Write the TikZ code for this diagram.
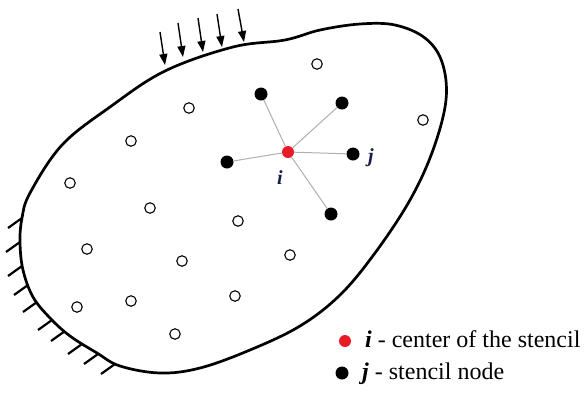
\documentclass[tikz,border=0pt]{standalone}
\usepackage{fontspec}
\setmainfont{Liberation Serif}
\usetikzlibrary{arrows.meta}
\definecolor{redpt}{RGB}{232,28,36}
\definecolor{lbl}{RGB}{25,30,70}
\definecolor{spoke}{RGB}{175,175,175}
\begin{document}
\begin{tikzpicture}[x=1pt,y=-1pt,
  boundary/.style={line width=2.7pt, line join=round},
  hatch/.style={line width=2.2pt},
  load/.style={line width=1.4pt, -{Triangle[length=11pt,width=8pt]}},
  free/.style={circle, draw, line width=1.1pt, minimum size=10.5pt, inner sep=0pt},
  stnode/.style={circle, fill=black, minimum size=13pt, inner sep=0pt},
  ctr/.style={circle, fill=redpt, minimum size=12pt, inner sep=0pt},
  spk/.style={draw=spoke, line width=1pt},
  lab/.style={font=\fontsize{20}{24}\selectfont\bfseries\itshape, text=lbl, inner sep=0pt},
  legend/.style={font=\fontsize{24}{28}\selectfont, inner sep=0pt, anchor=base west}]
\useasboundingbox (0,0) rectangle (584,392);

% boundary
\draw[boundary] plot[smooth cycle, tension=0.6] coordinates {
  (30,193) (62,145) (110,107) (165,71) (233,47) (285,40) (320,30) (360,24)
  (395,25) (425,38) (442,62) (446,100) (433,150) (410,200) (375,253)
  (340,295) (300,326) (250,350) (200,368) (160,373) (120,366)
  (97,353) (70,336) (50,318) (33,297) (23,270) (20,242) (22,218)};

% hatching of the fixed part
\foreach \hx/\hy in {22/218,20/242,22/266,28/285,37/302,52/320,65/331,82/344,98/354,115/364}
  \draw[hatch] (\hx,\hy) -- ++(-14,10);

% distributed load
\draw[load] (160,32) -- (165,65);
\draw[load] (178,23) -- (183,57);
\draw[load] (198,18) -- (203,52);
\draw[load] (217,14) -- (222,47);
\draw[load] (238,9) -- (244,42);

% free nodes
\node[free] (f1) at (317,64) {};
\node[free] (f2) at (189,108) {};
\node[free] (f3) at (131,141) {};
\node[free] (f4) at (423,120) {};
\node[free] (f5) at (70,183) {};
\node[free] (f6) at (150,208) {};
\node[free] (f7) at (238,221) {};
\node[free] (f8) at (87,249) {};
\node[free] (f9) at (182,261) {};
\node[free] (f10) at (290,255) {};
\node[free] (f11) at (77,307) {};
\node[free] (f12) at (131,301) {};
\node[free] (f13) at (235,296) {};
\node[free] (f14) at (175,334) {};

% stencil
\node[ctr] (c) at (288,152) {};
\node[stnode] (s1) at (261,94) {};
\node[stnode] (s2) at (342,103) {};
\node[stnode] (s3) at (227,162) {};
\node[stnode] (s4) at (353,154) {};
\node[stnode] (s5) at (331,214) {};
\foreach \s in {s1,s2,s3,s4,s5}
  \draw[spk] (c) -- (\s);
\node[lab] (li) at (280,178) {i};
\node[lab] (lj) at (371,158) {j};

% legend
\node[ctr] (lr) at (345,341) {};
\node[legend] (t1) at (365,347) {\textbf{\textit{i}} - center of the stencil};
\node[stnode] (lb) at (342,373) {};
\node[legend] (t2) at (362,379) {\textbf{\textit{j}} - stencil node};
\end{tikzpicture}
\end{document}
